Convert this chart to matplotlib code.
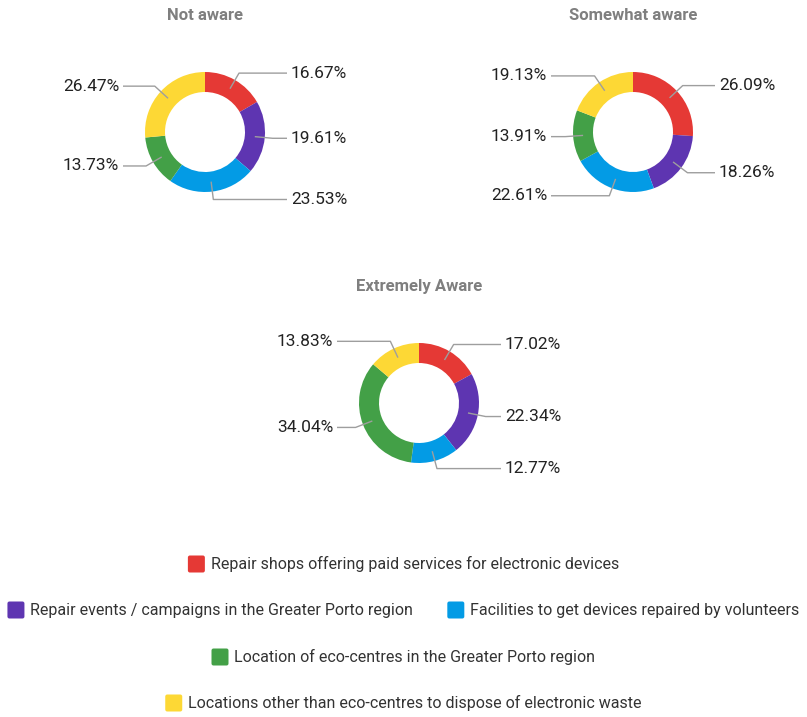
import numpy as np
import matplotlib
matplotlib.use("Agg")
import matplotlib.pyplot as plt
from matplotlib.patches import FancyBboxPatch

plt.rcParams['font.family'] = ['Roboto', 'DejaVu Sans']

# Survey answers by awareness group (share of responses, %)
categories = [
    'Repair shops offering paid services for electronic devices',
    'Repair events / campaigns in the Greater Porto region',
    'Facilities to get devices repaired by volunteers',
    'Location of eco-centres in the Greater Porto region',
    'Locations other than eco-centres to dispose of electronic waste',
]
groups = ['Not aware', 'Somewhat aware', 'Extremely Aware']
not_aware = [16.67, 19.61, 23.53, 13.73, 26.47]
somewhat_aware = [26.09, 18.26, 22.61, 13.91, 19.13]
extremely_aware = [17.02, 22.34, 12.77, 34.04, 13.83]

colors = ['#e53935', '#5e35b1', '#039be5', '#43a047', '#fdd835']

W, H = 807, 717
fig = plt.figure(figsize=(W / 100, H / 100), dpi=100)
ax = fig.add_axes([0, 0, 1, 1])

# donut centres in pixel coordinates (y measured from top)
centres = [(205, 132), (633, 132), (419, 403)]
R, RING = 60, 20

for name, vals, (cx, cy) in zip(groups, [not_aware, somewhat_aware, extremely_aware], centres):
    y0 = H - cy
    ax.pie(vals, colors=colors, center=(cx, y0), radius=R, startangle=90,
           counterclock=False, wedgeprops=dict(width=RING, linewidth=0))
    ax.text(cx, H - 15 if cy < 200 else H - 287, name, ha='center', va='center',
            fontsize=12, fontweight='bold', color='#7f7f7f')

    # leader lines and value labels
    cum = np.cumsum([0] + vals[:-1])
    for v, c0 in zip(vals, cum):
        ang = np.deg2rad((c0 + v / 2) / 100 * 360)
        s, c = np.sin(ang), np.cos(ang)
        x1, y1 = cx + 50 * s, y0 + 50 * c
        x2, y2 = cx + 68 * s, y0 + 68 * c
        side = 1 if s >= 0 else -1
        x3 = cx + side * 82
        ax.plot([x1, x2, x3], [y1, y2, y2], color='#9e9e9e', lw=1, solid_capstyle='butt')
        ax.text(cx + side * 86, y2, f'{v:.2f}%', ha='left' if side > 0 else 'right',
                va='center', fontsize=12.5, color='#222222')

# legend rows, centred
rows = [[0], [1, 2], [3], [4]]
row_y = [564, 610, 657, 703]
renderer = fig.canvas.get_renderer()
sw, gap, item_gap = 17, 6, 34
for items, ry in zip(rows, row_y):
    texts = []
    for i in items:
        t = ax.text(0, H - ry, categories[i], ha='left', va='center',
                    fontsize=11.5, color='#333333')
        texts.append(t)
    widths = [t.get_window_extent(renderer).width for t in texts]
    total = sum(sw + gap + w for w in widths) + item_gap * (len(items) - 1)
    x = (W - total) / 2
    for i, t, w in zip(items, texts, widths):
        ax.add_patch(FancyBboxPatch((x + 2, H - ry - sw / 2 + 2), sw - 4, sw - 4,
                                    boxstyle='round,pad=2', facecolor=colors[i],
                                    edgecolor='none'))
        t.set_x(x + sw + gap)
        x += sw + gap + w + item_gap

ax.set_xlim(0, W)
ax.set_ylim(0, H)
ax.set_aspect('equal')
ax.axis('off')
fig.savefig('out.png', dpi=100, facecolor='white')
